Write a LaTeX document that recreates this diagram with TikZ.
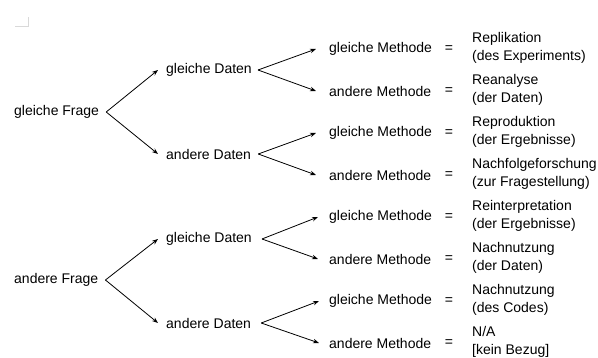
\documentclass[tikz,border=0pt]{standalone}
\usepackage{fontspec}
\setmainfont{Liberation Sans}
\usetikzlibrary{arrows.meta}
\begin{document}
\begin{tikzpicture}[x=1pt,y=-1pt,
  lbl/.style={anchor=west,inner sep=0pt,font=\fontsize{14}{18}\selectfont},
  res/.style={lbl,align=left},
  eqsign/.style={inner sep=0pt,font=\fontsize{14}{18}\selectfont},
  branch/.style={-{Stealth[length=6pt,width=4.5pt]},line width=0.8pt}]
\useasboundingbox (0,0) rectangle (598,358);
% faint corner mark
\draw[black!15,line width=0.6pt] (15,26) -- (28,26) -- (28,17);

% questions
\node[lbl] (q1) at (14,112) {gleiche Frage};
\node[lbl] (q2) at (14,280) {andere Frage};
% data
\node[lbl] (d1) at (166,70) {gleiche Daten};
\node[lbl] (d2) at (166,154) {andere Daten};
\node[lbl] (d3) at (166,239) {gleiche Daten};
\node[lbl] (d4) at (166,323) {andere Daten};
% methods, equals signs and outcomes
\foreach \i/\y/\m/\a/\b in {
  1/49/gleiche/Replikation/(des Experiments),
  2/91/andere/Reanalyse/(der Daten),
  3/133/gleiche/Reproduktion/(der Ergebnisse),
  4/175/andere/Nachfolgeforschung/(zur Fragestellung),
  5/217/gleiche/Reinterpretation/(der Ergebnisse),
  6/259/andere/Nachnutzung/(der Daten),
  7/301/gleiche/Nachnutzung/(des Codes),
  8/343/andere/{N/A}/[kein Bezug]}{
  \node[lbl] (m\i) at (329,\y) {\m\ Methode};
  \node[eqsign] (e\i) at (449,\y) {=};
  \node[res] (r\i) at (472,\y-1) {\a\\\b};
}

% first level
\draw[branch] ([xshift=7pt]q1.east) -- ([xshift=-8pt]d1.west);
\draw[branch] ([xshift=7pt]q1.east) -- ([xshift=-8pt]d2.west);
\draw[branch] ([xshift=7pt]q2.east) -- ([xshift=-8pt]d3.west);
\draw[branch] ([xshift=7pt]q2.east) -- ([xshift=-8pt]d4.west);
% second level
\draw[branch] ([xshift=6pt]d1.east) -- ([xshift=-13pt]m1.west);
\draw[branch] ([xshift=6pt]d1.east) -- ([xshift=-13pt]m2.west);
\draw[branch] ([xshift=7pt]d2.east) -- ([xshift=-13pt]m3.west);
\draw[branch] ([xshift=7pt]d2.east) -- ([xshift=-13pt]m4.west);
\draw[branch] ([xshift=10pt]d3.east) -- ([xshift=-11pt]m5.west);
\draw[branch] ([xshift=10pt]d3.east) -- ([xshift=-11pt]m6.west);
\draw[branch] ([xshift=10pt]d4.east) -- ([xshift=-10pt]m7.west);
\draw[branch] ([xshift=10pt]d4.east) -- ([xshift=-10pt]m8.west);
\end{tikzpicture}
\end{document}
